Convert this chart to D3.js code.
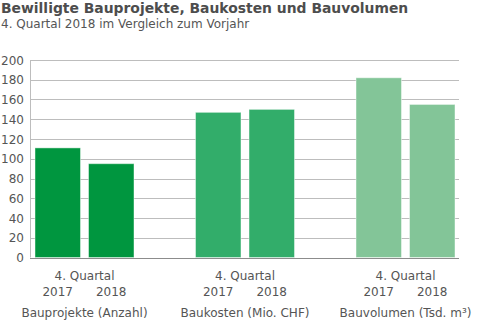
<!DOCTYPE html>
<html>
<head>
<meta charset="utf-8">
<script src="https://cdn.jsdelivr.net/npm/d3@7"></script>
<style>
  html, body { margin: 0; padding: 0; background: #fff; }
  svg { display: block; font-family: "DejaVu Sans", Verdana, sans-serif; }
</style>
</head>
<body>
<svg id="chart" width="480" height="326"></svg>
<script>
// Chart data
const categories = ["Bauprojekte (Anzahl)", "Baukosten (Mio. CHF)", "Bauvolumen (Tsd. m³)"];
const years = ["2017", "2018"];
const values2017 = [111, 147, 182];
const values2018 = [95, 150, 155];
const yTicks = [0, 20, 40, 60, 80, 100, 120, 140, 160, 180, 200];
const periodLabel = "4. Quartal";
const colors = ["#00963f", "#32ad6a", "#83c598"];

const svg = d3.select("#chart");
const textColor = "#555";

// Titles
svg.append("text")
  .attr("x", 1).attr("y", 13)
  .attr("font-size", 13.9).attr("font-weight", "bold")
  .attr("fill", "#4d4d4d")
  .text("Bewilligte Bauprojekte, Baukosten und Bauvolumen");
svg.append("text")
  .attr("x", 1).attr("y", 28)
  .attr("font-size", 12).attr("fill", textColor)
  .text("4. Quartal 2018 im Vergleich zum Vorjahr");

// Scales
const plotLeft = 31, plotRight = 459;
const y = d3.scaleLinear().domain([0, 200]).range([257.5, 60]);
const x0 = d3.scaleBand().domain(categories).range([4.25, 485.75]).padding(0);
const innerHalf = 49.5;
const x1 = d3.scaleBand().domain(years)
  .range([x0.bandwidth() / 2 - innerHalf, x0.bandwidth() / 2 + innerHalf])
  .paddingInner(0.15);

// Gridlines
const grid = svg.append("g");
grid.selectAll("line").data(yTicks.filter(d => d > 0)).join("line")
  .attr("x1", plotLeft).attr("x2", plotRight)
  .attr("y1", d => Math.round(y(d)) + 0.5).attr("y2", d => Math.round(y(d)) + 0.5)
  .attr("stroke", "#bdbdbd").attr("stroke-width", 1);

// Y axis line
svg.append("line")
  .attr("x1", plotLeft - 0.5).attr("x2", plotLeft - 0.5)
  .attr("y1", y(200)).attr("y2", y(0))
  .attr("stroke", "#bdbdbd");

// Y tick labels
svg.append("g").selectAll("text").data(yTicks).join("text")
  .attr("x", 24).attr("y", d => y(d) + 4.5)
  .attr("text-anchor", "end")
  .attr("font-size", 12).attr("fill", textColor)
  .text(d => d);

// Bars
const rows = categories.map((c, i) => ({ cat: c, i, vals: [values2017[i], values2018[i]] }));
const groups = svg.append("g").selectAll("g").data(rows).join("g")
  .attr("transform", d => `translate(${x0(d.cat)},0)`);
groups.selectAll("rect").data(d => d.vals.map((v, j) => ({ year: years[j], v, i: d.i }))).join("rect")
  .attr("x", d => x1(d.year))
  .attr("width", x1.bandwidth())
  .attr("y", d => y(d.v))
  .attr("height", d => y(0) - y(d.v))
  .attr("fill", d => colors[d.i])
  .attr("stroke", "rgba(255,255,255,0.45)")
  .attr("stroke-width", 1);

// X axis baseline
svg.append("line")
  .attr("x1", plotLeft - 1).attr("x2", plotRight)
  .attr("y1", Math.round(y(0)) + 0.5).attr("y2", Math.round(y(0)) + 0.5)
  .attr("stroke", "#8c8c8c");

// Category labels
groups.append("text")
  .attr("x", x0.bandwidth() / 2).attr("y", 279.5)
  .attr("text-anchor", "middle").attr("font-size", 12).attr("fill", textColor)
  .text(periodLabel);
groups.selectAll("text.year").data(years).join("text")
  .attr("class", "year")
  .attr("x", d => x1(d) + x1.bandwidth() / 2).attr("y", 295.5)
  .attr("text-anchor", "middle").attr("font-size", 12).attr("fill", textColor)
  .text(d => d);
groups.append("text")
  .attr("x", x0.bandwidth() / 2).attr("y", 316.5)
  .attr("text-anchor", "middle").attr("font-size", 12).attr("fill", textColor)
  .text(d => d.cat);
</script>
</body>
</html>
